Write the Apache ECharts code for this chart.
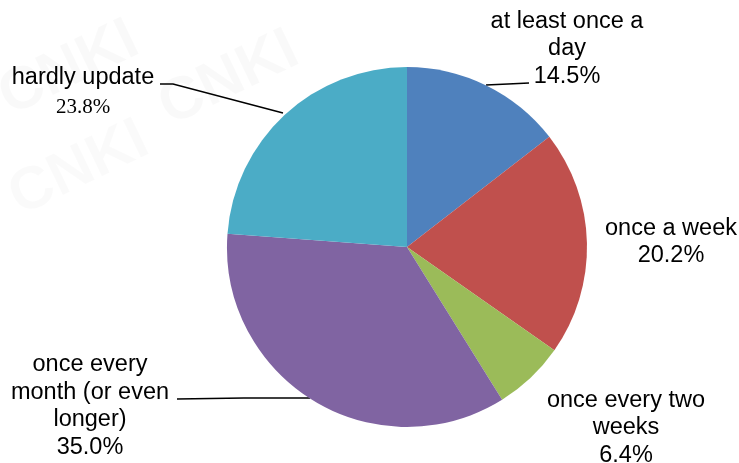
<!DOCTYPE html>
<html>
<head>
<meta charset="utf-8">
<script src="https://cdn.jsdelivr.net/npm/echarts@6/dist/echarts.min.js"></script>
<style>
  html, body { margin: 0; padding: 0; background: #fff; }
  #chart { width: 739px; height: 463px; }
</style>
</head>
<body>
<div id="chart"></div>
<script>
// slices, clockwise from 12 o'clock
const categories = ['at least once a\nday', 'once a week', 'once every two\nweeks', 'once every\nmonth (or even\nlonger)', 'hardly update'];
const shares = [14.5, 20.2, 6.4, 35.0, 23.8];
const colors = ['#4f81bd', '#c0504d', '#9bbb59', '#8064a2', '#4bacc6'];

// where each label sits (Excel-style manual placement)
const labelPos = [
  { x: 567, y: 49, line: [[486, 85], [508, 84], [529, 83]] },
  { x: 671, y: 242 },
  { x: 626, y: 428 },
  { x: 90, y: 406, line: [[310, 398], [244, 398], [177, 399]] },
  { x: 83, y: 92, line: [[283, 113], [173, 84], [160, 84]] }
];

const chart = echarts.init(document.getElementById('chart'));

const data = categories.map((name, i) => {
  const item = {
    name: name,
    value: shares[i],
    itemStyle: { color: colors[i] },
    labelLine: { show: !!labelPos[i].line }
  };
  if (i === 4) {
    item.label = {
      formatter: p => '{n|' + p.name + '}\n{v|' + p.value.toFixed(1) + '%}',
      rich: {
        n: { fontFamily: 'Liberation Sans, Arial', fontSize: 23.5, color: '#000', lineHeight: 30 },
        v: { fontFamily: 'Liberation Serif, serif', fontSize: 21, color: '#000', lineHeight: 28 }
      }
    };
  }
  return item;
});

chart.setOption({
  animation: false,
  backgroundColor: '#fff',
  graphic: [
    { type: 'text', left: -10, top: 10, rotation: 0.45, style: { text: 'CNKI', fontSize: 60, fontWeight: 'bold', fill: 'rgba(0,0,0,0.025)' } },
    { type: 'text', left: 150, top: 20, rotation: 0.45, style: { text: 'CNKI', fontSize: 60, fontWeight: 'bold', fill: 'rgba(0,0,0,0.025)' } },
    { type: 'text', left: 0, top: 110, rotation: 0.45, style: { text: 'CNKI', fontSize: 60, fontWeight: 'bold', fill: 'rgba(0,0,0,0.02)' } }
  ],
  series: [
    {
      type: 'pie',
      center: [407, 247],
      radius: [0, 180],
      startAngle: 90,
      clockwise: true,
      avoidLabelOverlap: false,
      itemStyle: { borderWidth: 0 },
      emphasis: { disabled: true },
      label: {
        show: true,
        position: 'outside',
        color: '#000',
        fontFamily: 'Liberation Sans, Arial',
        fontSize: 23.5,
        lineHeight: 27.5,
        align: 'center',
        formatter: p => p.name + '\n' + p.value.toFixed(1) + '%'
      },
      labelLine: {
        show: true,
        lineStyle: { color: '#000', width: 1.5 }
      },
      labelLayout: params => {
        const pos = labelPos[params.dataIndex];
        const out = { x: pos.x, y: pos.y, align: 'center', verticalAlign: 'middle' };
        if (pos.line) out.labelLinePoints = pos.line;
        return out;
      },
      data: data
    }
  ]
});
</script>
</body>
</html>
